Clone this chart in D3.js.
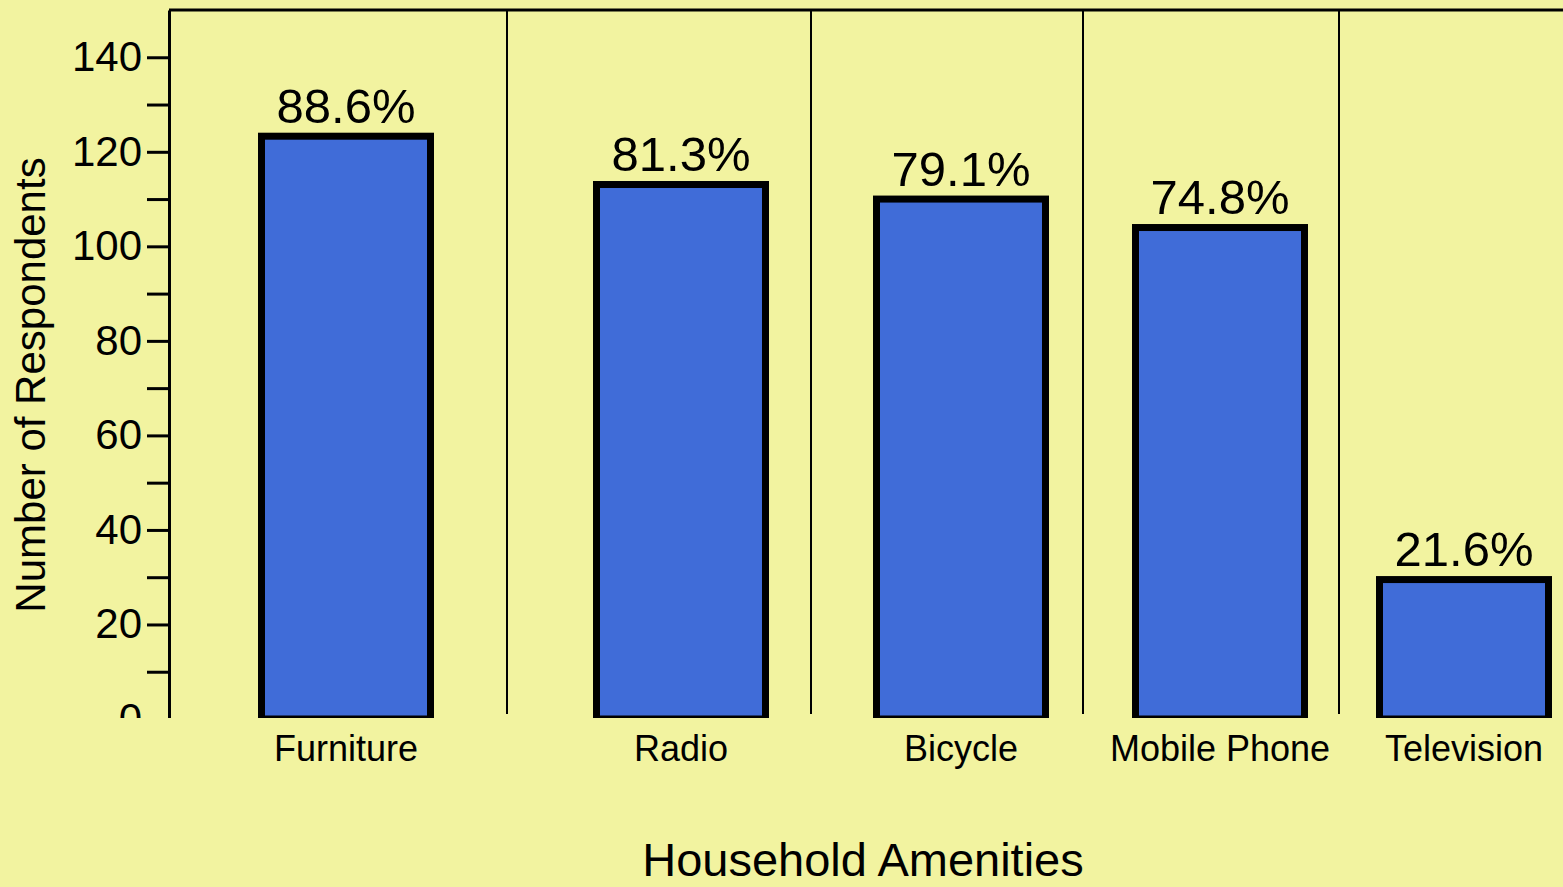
<!DOCTYPE html>
<html>
<head>
<meta charset="utf-8">
<script src="https://cdn.jsdelivr.net/npm/d3@7"></script>
<style>
  html, body { margin: 0; padding: 0; background: #F2F3A0; }
  svg { display: block; }
  text { font-family: "Liberation Sans", Arial, Helvetica, sans-serif; fill: #000; }
</style>
</head>
<body>
<svg id="chart" width="1563" height="887"></svg>
<script>
// Household amenities owned by respondents
const categories = ["Furniture", "Radio", "Bicycle", "Mobile Phone", "Television"];
const percentOwned = [88.6, 81.3, 79.1, 74.8, 21.6];
const totalRespondents = 140;
const yTickValues = [0, 10, 20, 30, 40, 50, 60, 70, 80, 90, 100, 110, 120, 130, 140];
const yLabelStep = 20;

// Layout
const W = 1563, H = 887;
const plot = { left: 169, top: 10, bottom: 719, clip: 718 };
// slot stops: category centres at whole steps, separators at half steps
const slotSteps = [0, 0.5, 1, 1.5, 2, 2.5, 3, 3.5, 4];
const slotStops = [346, 507, 681, 811, 961, 1083, 1220, 1339, 1464];
const barOuterWidth = 176;
const barStroke = 7;

const svg = d3.select("#chart");

svg.append("defs").append("clipPath").attr("id", "plotClip")
  .append("rect").attr("x", 0).attr("y", 0).attr("width", W).attr("height", plot.clip);

const y = d3.scaleLinear().domain([0, 150]).range([plot.bottom, plot.top]);
const x = d3.scaleLinear().domain(slotSteps).range(slotStops);

const counts = percentOwned.map(p => p / 100 * totalRespondents);

const clipped = svg.append("g").attr("clip-path", "url(#plotClip)");

// Category separators
clipped.append("g")
  .selectAll("line")
  .data(d3.range(categories.length - 1))
  .join("line")
  .attr("x1", i => x(i + 0.5)).attr("x2", i => x(i + 0.5))
  .attr("y1", plot.top).attr("y2", 714)
  .attr("stroke", "#000").attr("stroke-width", 2);

// Top frame
clipped.append("line")
  .attr("x1", plot.left).attr("x2", W)
  .attr("y1", plot.top).attr("y2", plot.top)
  .attr("stroke", "#000").attr("stroke-width", 3);

// Y axis
const yAxis = d3.axisLeft(y)
  .tickValues(yTickValues)
  .tickSize(22)
  .tickSizeOuter(0)
  .tickPadding(5)
  .tickFormat(d => d % yLabelStep === 0 ? d : "");

const ya = clipped.append("g")
  .attr("transform", `translate(${plot.left},0)`)
  .call(yAxis);
ya.select(".domain").attr("stroke-width", 3).attr("stroke", "#000");
ya.selectAll(".tick line").attr("stroke-width", 3).attr("stroke", "#000");
ya.selectAll(".tick text")
  .attr("font-size", 42)
  .attr("font-family", "'Liberation Sans', Arial, sans-serif")
  .attr("fill", "#000");

// Bars
clipped.append("g")
  .selectAll("rect")
  .data(counts)
  .join("rect")
  .attr("x", (d, i) => x(i) - barOuterWidth / 2 + barStroke / 2)
  .attr("width", barOuterWidth - barStroke)
  .attr("y", d => y(d) + barStroke / 2)
  .attr("height", d => y(0) - y(d) - barStroke / 2)
  .attr("fill", "#406CD8")
  .attr("stroke", "#000")
  .attr("stroke-width", barStroke);

// Percentage labels above bars
svg.append("g")
  .selectAll("text")
  .data(percentOwned)
  .join("text")
  .attr("x", (d, i) => x(i))
  .attr("y", (d, i) => y(counts[i]) - 10)
  .attr("text-anchor", "middle")
  .attr("font-size", 49)
  .text(d => d.toFixed(1) + "%");

// Category labels
svg.append("g")
  .selectAll("text")
  .data(categories)
  .join("text")
  .attr("x", (d, i) => x(i))
  .attr("y", 761)
  .attr("text-anchor", "middle")
  .attr("font-size", 36)
  .text(d => d);

// Axis titles
svg.append("text")
  .attr("x", 863).attr("y", 876)
  .attr("text-anchor", "middle")
  .attr("font-size", 47)
  .text("Household Amenities");

svg.append("text")
  .attr("transform", "translate(45,385) rotate(-90)")
  .attr("text-anchor", "middle")
  .attr("font-size", 42)
  .text("Number of Respondents");
</script>
</body>
</html>
